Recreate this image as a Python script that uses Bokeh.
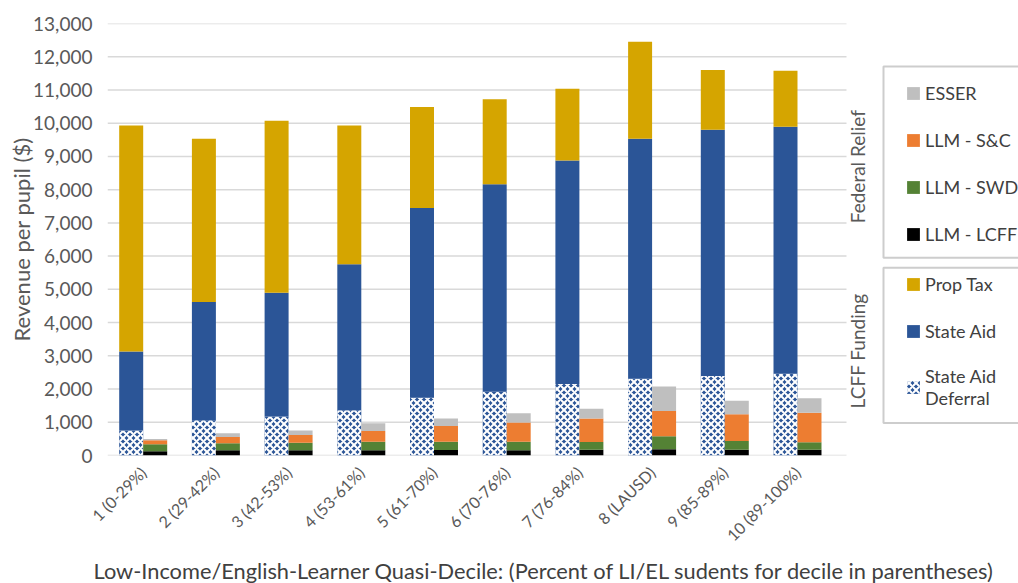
import math
from bokeh.plotting import figure
from bokeh.models import (Range1d, FixedTicker, NumeralTickFormatter, Legend,
                          LegendItem, Label, Title, BoxAnnotation, ColumnDataSource)
from bokeh.transform import dodge
from bokeh.embed import file_html
from bokeh.resources import INLINE

# ---------------- data ----------------
deciles = ["1 (0-29%)", "2 (29-42%)", "3 (42-53%)", "4 (53-61%)", "5 (61-70%)",
           "6 (70-76%)", "7 (76-84%)", "8 (LAUSD)", "9 (85-89%)", "10 (89-100%)"]
decile_no = [1, 2, 3, 4, 5, 6, 7, 8, 9, 10]

# LCFF funding (left bar of each decile)
state_aid_deferral = [750, 1060, 1170, 1360, 1740, 1915, 2150, 2310, 2390, 2460]
state_aid = [2380, 3560, 3730, 4395, 5710, 6250, 6730, 7220, 7410, 7430]
prop_tax = [6800, 4910, 5170, 4175, 3040, 2555, 2160, 2920, 1800, 1685]

# Federal relief (right bar of each decile)
llm_lcff = [130, 155, 155, 155, 165, 155, 175, 185, 175, 175]
llm_swd = [210, 215, 230, 260, 250, 260, 230, 395, 265, 225]
llm_sc = [120, 190, 235, 325, 475, 575, 705, 760, 800, 890]
esser = [40, 110, 130, 230, 220, 280, 300, 735, 405, 435]

y_ticks = [0, 1000, 2000, 3000, 4000, 5000, 6000, 7000, 8000, 9000, 10000, 11000, 12000, 13000]

c_prop, c_state, c_esser, c_sc, c_swd, c_lcff = "#D5A500", "#2B5597", "#BFBFBF", "#ED7D31", "#548235", "#000000"
FONT = "Lato"
TXT = "#595959"

# ---------------- geometry helpers (pixel -> data) ----------------
FRAME_L, FRAME_R, FRAME_T, FRAME_B = 107, 1018, 23, 454.5
PX_PER_CAT = 72.7
X0 = 0.509
X1 = X0 + (FRAME_R - FRAME_L) / PX_PER_CAT
GRID_END = X0 + (846 - FRAME_L) / PX_PER_CAT

def xd(px):
    return X0 + (px - FRAME_L) / PX_PER_CAT

def yd(py):
    return (FRAME_B - py) * 13000 / (FRAME_B - FRAME_T)

src = ColumnDataSource(dict(x=decile_no, deferral=state_aid_deferral, state_aid=state_aid,
                            prop_tax=prop_tax, lcff=llm_lcff, swd=llm_swd, sc=llm_sc, esser=esser))

p = figure(width=1018, height=583, output_backend="svg", toolbar_location=None,
           x_range=Range1d(X0, X1), y_range=Range1d(0, 13000),
           min_border_left=FRAME_L, min_border_right=0, min_border_top=FRAME_T,
           min_border_bottom=int(round(583 - FRAME_B)))
p.outline_line_color = None
p.background_fill_color = "white"
p.border_fill_color = "white"

# gridlines limited to the category area
grid_src = ColumnDataSource(dict(y=y_ticks, x0=[X0] * len(y_ticks), x1=[GRID_END] * len(y_ticks)))
p.segment(x0="x0", x1="x1", y0="y", y1="y", source=grid_src, line_color="#D9D9D9", line_width=1.5)

left = p.vbar_stack(["deferral", "state_aid", "prop_tax"], x=dodge("x", -0.165), width=0.33,
                    source=src, color=[c_state, c_state, c_prop], line_color=None)
left[0].glyph.hatch_pattern = "diagonal_cross"
left[0].glyph.hatch_color = "white"
left[0].glyph.hatch_scale = 7
left[0].glyph.hatch_weight = 2

right = p.vbar_stack(["lcff", "swd", "sc", "esser"], x=dodge("x", 0.165), width=0.33,
                     source=src, color=[c_lcff, c_swd, c_sc, c_esser], line_color=None)

# axes
p.xaxis.ticker = FixedTicker(ticks=decile_no)
p.xaxis.major_label_overrides = {n: lab for n, lab in zip(decile_no, deciles)}
p.xaxis.major_label_orientation = math.pi / 4
p.xaxis.major_tick_line_color = None
p.xaxis.minor_tick_line_color = None
p.xaxis.axis_line_color = None
p.xaxis.major_label_text_font = FONT
p.xaxis.major_label_text_font_size = "16px"
p.xaxis.major_label_text_color = TXT
p.xaxis.major_label_standoff = 8

p.yaxis.ticker = FixedTicker(ticks=y_ticks)
p.yaxis.formatter = NumeralTickFormatter(format="0,0")
p.yaxis.axis_line_color = None
p.yaxis.major_tick_line_color = None
p.yaxis.minor_tick_line_color = None
p.yaxis.major_label_text_font = FONT
p.yaxis.major_label_text_font_size = "19px"
p.yaxis.major_label_text_color = TXT
p.yaxis.major_label_standoff = 9
p.yaxis.axis_label = "Revenue per pupil ($)"
p.yaxis.axis_label_text_font = FONT
p.yaxis.axis_label_text_font_size = "22px"
p.yaxis.axis_label_text_font_style = "normal"
p.yaxis.axis_label_text_color = TXT
p.yaxis.axis_label_standoff = -5

p.xgrid.grid_line_color = None
p.ygrid.grid_line_color = None

# x-axis title in the below panel, shifted to match the original placement
p.add_layout(Title(text="Low-Income/English-Learner Quasi-Decile:  (Percent of LI/EL sudents for decile in parentheses)",
                   align="left", offset=93 - FRAME_L, standoff=0, text_font=FONT, text_font_size="21.8px",
                   text_font_style="normal", text_color="#404040"), "below")

# legend frames
for top_px, bot_px in [(66, 257), (267, 422)]:
    p.add_layout(BoxAnnotation(left=xd(883), right=xd(1040), top=yd(top_px), bottom=yd(bot_px),
                               fill_color=None, fill_alpha=0, line_color="#595959", line_width=2))

# legends
def make_legend(items, loc):
    return Legend(items=items, location=loc, orientation="vertical",
                  label_text_font=FONT, label_text_font_size="18px", label_text_color="#404040",
                  label_text_line_height=1.4,
                  glyph_width=16, glyph_height=16, label_height=25, label_standoff=4,
                  padding=0, spacing=22, margin=0,
                  border_line_color=None, background_fill_alpha=0.0)

fed_items = [LegendItem(label="ESSER", renderers=[right[3]]),
             LegendItem(label="LLM - S&C", renderers=[right[2]]),
             LegendItem(label="LLM - SWD", renderers=[right[1]]),
             LegendItem(label="LLM - LCFF", renderers=[right[0]])]
lcff_items = [LegendItem(label="Prop Tax", renderers=[left[2]]),
              LegendItem(label="State Aid", renderers=[left[1]]),
              LegendItem(label="State Aid\nDeferral", renderers=[left[0]])]

p.add_layout(make_legend(fed_items, (905 - FRAME_L, 209)))
p.add_layout(make_legend(lcff_items, (905 - FRAME_L, 46)))

for txt, py in [("Federal Relief", 166), ("LCFF Funding", 350)]:
    p.add_layout(Label(x=xd(857), y=yd(py), text=txt, angle=math.pi / 2,
                       text_align="center", text_baseline="middle",
                       text_font=FONT, text_font_size="19px", text_color=TXT))

open("out.html", "w").write(file_html(p, INLINE))
